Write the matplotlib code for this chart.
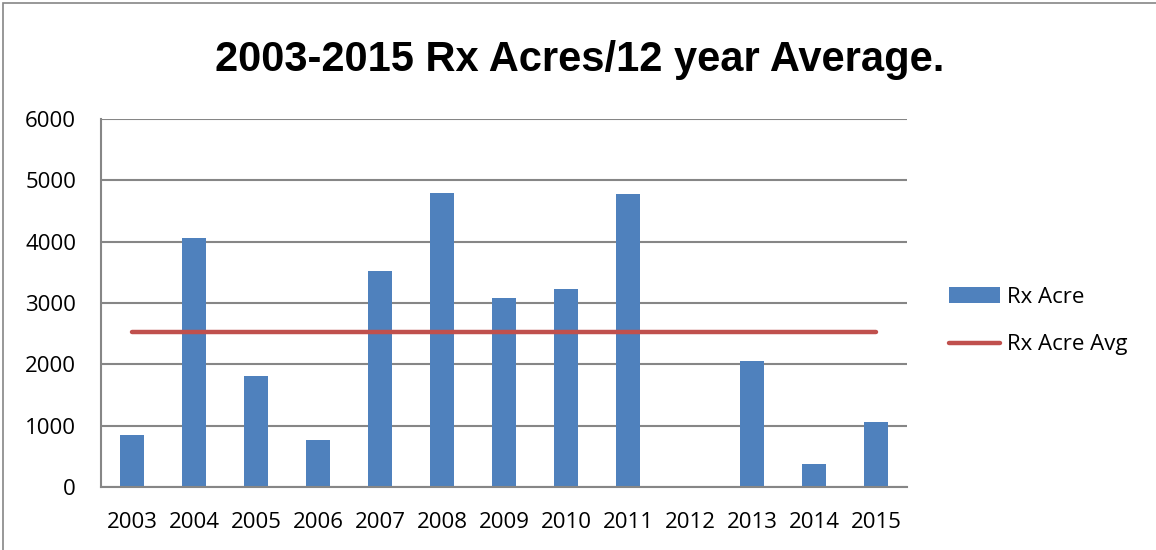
import matplotlib.pyplot as plt
from matplotlib.patches import Rectangle

years = ['2003', '2004', '2005', '2006', '2007', '2008', '2009', '2010', '2011',
         '2012', '2013', '2014', '2015']
rx_acre = [842, 4065, 1804, 761, 3527, 4788, 3076, 3228, 4777, 0, 2049, 380, 1065]
rx_acre_avg = 2535

plt.rcParams['font.family'] = ['Open Sans', 'DejaVu Sans']

fig = plt.figure(figsize=(11.56, 5.5), dpi=100)
ax = fig.add_axes([101 / 1156, 1 - 487 / 550, 806 / 1156, 368 / 550])

x = list(range(len(years)))
bars = ax.bar(x, rx_acre, width=0.4, color='#4F81BD', label='Rx Acre', zorder=2)
line, = ax.plot([x[0], x[-1]], [rx_acre_avg, rx_acre_avg], color='#C0504D', linewidth=3.2,
                solid_capstyle='round', label='Rx Acre Avg', zorder=3)

ax.set_xlim(-0.5, len(years) - 0.5)
ax.set_ylim(0, 6000)
ax.set_yticks(range(0, 6001, 1000))
ax.set_xticks(x)
ax.set_xticklabels(years)
ax.tick_params(axis='both', length=0, labelsize=16, colors='black')
ax.tick_params(axis='y', pad=18)
ax.tick_params(axis='x', pad=18)
ax.yaxis.grid(True, color='#868686', linewidth=1.5, zorder=0)
ax.set_axisbelow(True)
for s in ['top', 'right']:
    ax.spines[s].set_visible(False)
for s in ['left', 'bottom']:
    ax.spines[s].set_color('#868686')
    ax.spines[s].set_linewidth(1.5)

fig.text(580 / 1156, 1 - 60 / 550, '2003-2015 Rx Acres/12 year Average.',
         family=['Liberation Sans', 'DejaVu Sans'],
         ha='center', va='center', fontsize=30, fontweight='bold')

ax.legend([bars, line], ['Rx Acre', 'Rx Acre Avg'], loc='center left',
          bbox_to_anchor=(929 / 1156, 1 - 321 / 550),
          bbox_transform=fig.transFigure, frameon=False, fontsize=16,
          handlelength=2.3, handletextpad=0.3, labelspacing=1.2)

fig.add_artist(Rectangle((3 / 1156, -0.01), 1.0, 1 - 3 / 550 + 0.01, transform=fig.transFigure,
                         fill=False, edgecolor='#868686', linewidth=1.2))

fig.savefig('out.png', dpi=100)
